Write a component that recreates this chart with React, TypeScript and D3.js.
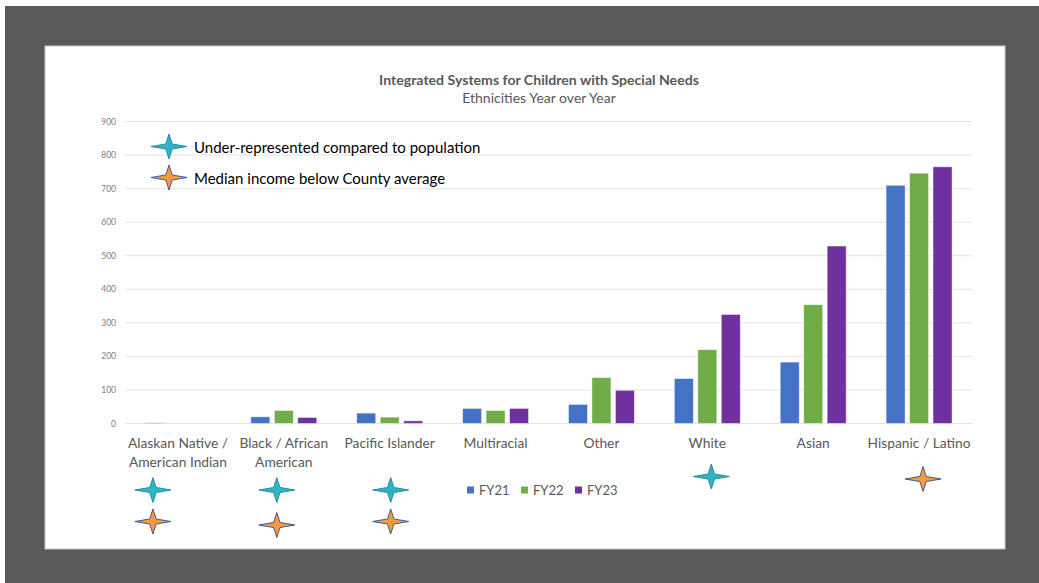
import React from "react";
import * as d3 from "d3";

const categories = [
  "Alaskan Native / American Indian",
  "Black / African American",
  "Pacific Islander",
  "Multiracial",
  "Other",
  "White",
  "Asian",
  "Hispanic / Latino",
];
const categoryLines = [
  ["Alaskan Native /", "American Indian"],
  ["Black / African", "American"],
  ["Pacific Islander"],
  ["Multiracial"],
  ["Other"],
  ["White"],
  ["Asian"],
  ["Hispanic / Latino"],
];
const seriesNames = ["FY21", "FY22", "FY23"];
const fy21 = [2, 20, 31, 45, 57, 134, 183, 710];
const fy22 = [0, 39, 19, 39, 137, 220, 354, 746];
const fy23 = [0, 18, 8, 45, 99, 325, 529, 765];
const yTicks = [0, 100, 200, 300, 400, 500, 600, 700, 800, 900];
// star markers under categories: category index
const underRepresented = [0, 1, 2, 5];
const incomeBelow = [0, 1, 2, 7];

const colors = ["#4472C4", "#70AD47", "#7030A0"];
const W = 1039;
const H = 583;

// small hand-placed nudges of the annotation stars relative to category centre
const markerNudge: Record<number, number> = { 0: -25, 1: -7, 2: 1, 5: 4, 7: 4 };

function starPath(rx: number, ry: number, w: number) {
  return `M${rx},0 L${w},${w * 0.8} L0,${ry} L${-w},${w * 0.8} L${-rx},0 L${-w},${-w * 0.8} L0,${-ry} L${w},${-w * 0.8} Z`;
}

function Star({ x, y, kind }: { x: number; y: number; kind: "cyan" | "orange" }) {
  const fill = kind === "cyan" ? "#2FB4C6" : "#F79A3E";
  const stroke = kind === "cyan" ? "#1E8796" : "#2F4D8C";
  return (
    <path
      transform={`translate(${x},${y})`}
      d={starPath(18, 12.5, 3.2)}
      fill={fill}
      stroke={stroke}
      strokeWidth={0.9}
      strokeLinejoin="miter"
    />
  );
}

export default function App() {
  const values = [fy21, fy22, fy23];
  const x = d3
    .scaleBand<string>()
    .domain(categories)
    .range([125, 972])
    .paddingInner(0.377)
    .paddingOuter(0.1885);
  const xs = d3
    .scaleBand<string>()
    .domain(seriesNames)
    .range([0, x.bandwidth()])
    .paddingInner(0.19);
  const y = d3.scaleLinear().domain([0, 900]).range([423.5, 121.5]);
  const font = "Lato, 'Open Sans', sans-serif";
  const center = (i: number) => (x(categories[i]) as number) + x.bandwidth() / 2;

  return (
    <svg
      width={W}
      height={H}
      style={{ position: "absolute", left: 0, top: 0, display: "block" }}
      fontFamily={font}
    >
      <rect x={0} y={0} width={W} height={H} fill="#ffffff" />
      <rect x={5} y={6} width={W - 5} height={H - 6} fill="#595959" />
      <rect x={45} y={46} width={960} height={503} fill="#ffffff" stroke="#c8c8c8" strokeWidth={1} />

      <text x={539} y={85} textAnchor="middle" fontSize={14.1} fontWeight={700} fill="#595959">
        Integrated Systems for Children with Special Needs
      </text>
      <text x={539} y={103} textAnchor="middle" fontSize={14} fill="#595959">
        Ethnicities Year over Year
      </text>

      {yTicks.map((t) => (
        <g key={t}>
          <line x1={125} x2={972} y1={y(t)} y2={y(t)} stroke="#e3e3e3" strokeWidth={1} />
          <text x={116} y={y(t) + 3} textAnchor="end" fontSize={8.5} fill="#7f7f7f">
            {t}
          </text>
        </g>
      ))}

      {categories.map((c, i) =>
        seriesNames.map((s, j) => {
          const v = values[j][i];
          const bx = (x(c) as number) + (xs(s) as number);
          return (
            <rect
              key={c + s}
              x={bx}
              y={y(v)}
              width={xs.bandwidth()}
              height={y(0) - y(v)}
              fill={colors[j]}
              stroke="#ffffff"
              strokeOpacity={0.6}
              strokeWidth={0.8}
            />
          );
        })
      )}

      {categoryLines.map((lines, i) => (
        <text key={i} textAnchor="middle" fontSize={13.8} fill="#595959">
          {lines.map((l, k) => (
            <tspan key={k} x={center(i)} y={448 + k * 18.5}>
              {l}
            </tspan>
          ))}
        </text>
      ))}

      {/* series legend */}
      {seriesNames.map((s, j) => {
        const lx = [467, 521, 575][j];
        return (
          <g key={s}>
            <rect x={lx} y={486.5} width={7} height={7} fill={colors[j]} />
            <text x={lx + 12} y={495} fontSize={13} fill="#595959">
              {s}
            </text>
          </g>
        );
      })}

      {/* marker legend */}
      <Star x={169} y={146.5} kind="cyan" />
      <text x={194} y={152.5} fontSize={15} fill="#000000">
        Under-represented compared to population
      </text>
      <Star x={169} y={177.5} kind="orange" />
      <text x={194} y={183.5} fontSize={15} fill="#000000">
        Median income below County average
      </text>

      {/* category markers */}
      {underRepresented.map((i) => (
        <Star key={"u" + i} x={center(i) + markerNudge[i]} y={i > 2 ? 476.5 : 490} kind="cyan" />
      ))}
      {incomeBelow.map((i) => (
        <Star
          key={"o" + i}
          x={center(i) + markerNudge[i]}
          y={i > 2 ? 479 : i === 1 ? 525 : 521.5}
          kind="orange"
        />
      ))}
    </svg>
  );
}
